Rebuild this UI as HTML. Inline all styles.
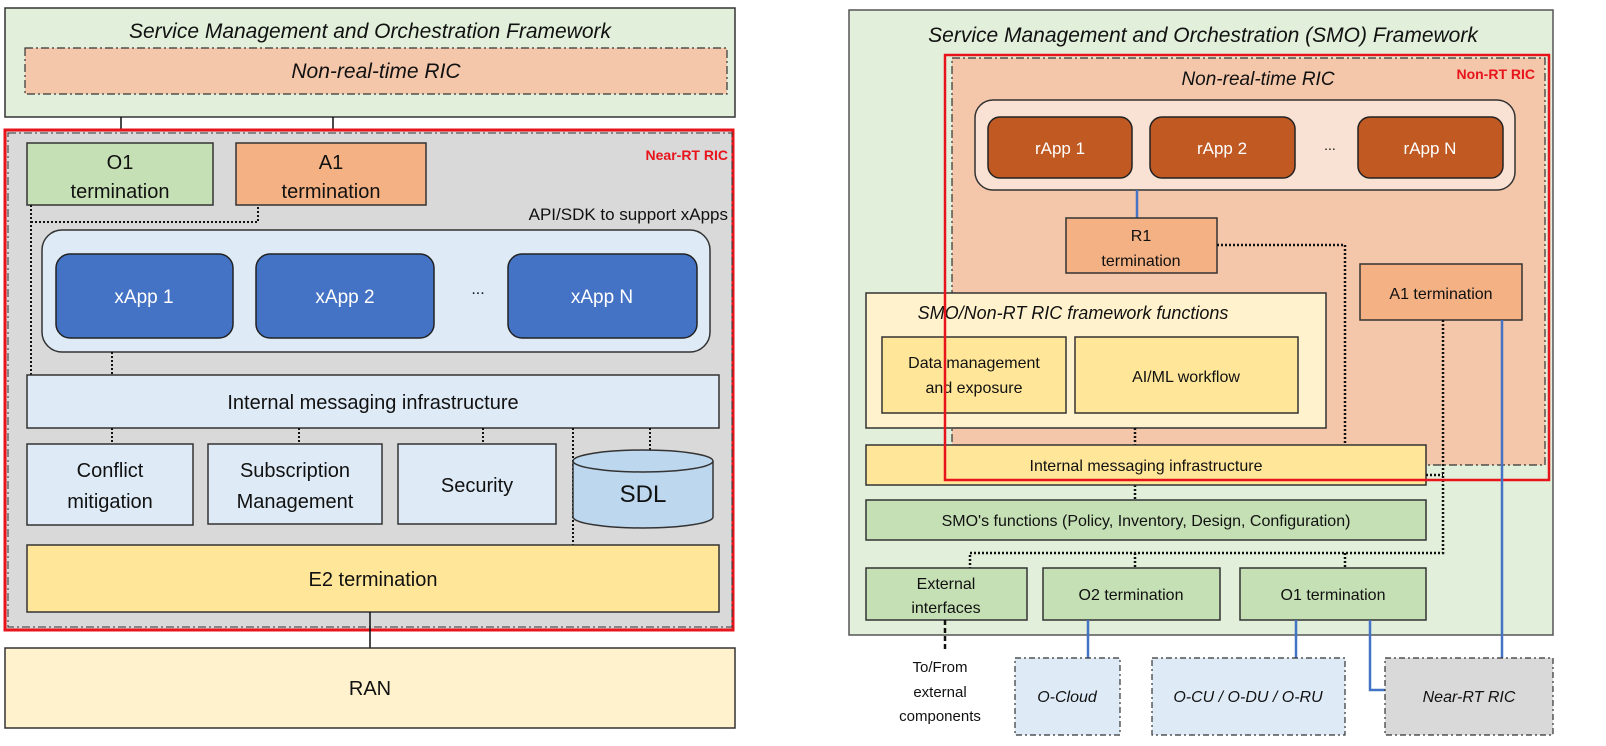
<!DOCTYPE html>
<html><head><meta charset="utf-8"><style>
html,body{margin:0;padding:0;background:#fff;}
svg{display:block;}
text{font-family:"Liberation Sans",sans-serif;fill:#111;}
.it{font-style:italic;}
</style></head><body>
<svg width="1606" height="746" viewBox="0 0 1606 746" xmlns="http://www.w3.org/2000/svg">
<!-- LEFT -->
<rect x="5" y="8" width="730" height="109" fill="#e2efda" stroke="#333" stroke-width="1.5"/>
<text x="370" y="38" font-size="21" class="it" text-anchor="middle">Service Management and Orchestration Framework</text>
<rect x="25" y="48" width="702" height="46" fill="#f4c7aa" stroke="#333" stroke-width="1.2" stroke-dasharray="8,3,2,3"/>
<text x="376" y="78" font-size="21" class="it" text-anchor="middle">Non-real-time RIC</text>
<line x1="121" y1="117" x2="121" y2="143" stroke="#111" stroke-width="1.5"/>
<line x1="333" y1="117" x2="333" y2="143" stroke="#111" stroke-width="1.5"/>
<rect x="5" y="130" width="728" height="500" fill="#d9d9d9" stroke="#e8141c" stroke-width="3"/>
<rect x="8" y="133" width="724" height="494" fill="none" stroke="#333" stroke-width="1" stroke-dasharray="8,3,2,3"/>
<text x="728" y="160" font-size="14" font-weight="bold" fill="#e8141c" text-anchor="end" style="fill:#e8141c">Near-RT RIC</text>
<rect x="27" y="143" width="186" height="62" fill="#c5e0b4" stroke="#333" stroke-width="1.5"/>
<text x="120" y="169" font-size="20" text-anchor="middle">O1</text>
<text x="120" y="198" font-size="20" text-anchor="middle">termination</text>
<rect x="236" y="143" width="190" height="62" fill="#f4b183" stroke="#333" stroke-width="1.5"/>
<text x="331" y="169" font-size="20" text-anchor="middle">A1</text>
<text x="331" y="198" font-size="20" text-anchor="middle">termination</text>
<text x="728" y="220" font-size="17" text-anchor="end">API/SDK to support xApps</text>
<path d="M31 205 V375 M31 222 H258 V205" fill="none" stroke="#111" stroke-width="2" stroke-dasharray="2,2"/>
<rect x="42" y="230" width="668" height="122" rx="20" fill="#deebf7" stroke="#333" stroke-width="1.5"/>
<rect x="56" y="254" width="177" height="84" rx="14" fill="#4472c4" stroke="#222" stroke-width="1.5"/>
<rect x="256" y="254" width="178" height="84" rx="14" fill="#4472c4" stroke="#222" stroke-width="1.5"/>
<rect x="508" y="254" width="189" height="84" rx="14" fill="#4472c4" stroke="#222" stroke-width="1.5"/>
<text x="144" y="303" font-size="19" text-anchor="middle" style="fill:#fff">xApp 1</text>
<text x="345" y="303" font-size="19" text-anchor="middle" style="fill:#fff">xApp 2</text>
<text x="602" y="303" font-size="19" text-anchor="middle" style="fill:#fff">xApp N</text>
<text x="478" y="294" font-size="16" text-anchor="middle">...</text>
<line x1="112" y1="352" x2="112" y2="375" stroke="#111" stroke-width="2" stroke-dasharray="2,2"/>
<rect x="27" y="375" width="692" height="53" fill="#deebf7" stroke="#333" stroke-width="1.5"/>
<text x="373" y="409" font-size="20" text-anchor="middle">Internal messaging infrastructure</text>
<path d="M112 428 V444 M299 428 V444 M483 428 V444 M650 428 V460 M573 428 V545" stroke="#111" stroke-width="2" stroke-dasharray="2,2"/>
<rect x="27" y="444" width="166" height="81" fill="#deebf7" stroke="#333" stroke-width="1.5"/>
<text x="110" y="477" font-size="20" text-anchor="middle">Conflict</text>
<text x="110" y="508" font-size="20" text-anchor="middle">mitigation</text>
<rect x="208" y="444" width="174" height="80" fill="#deebf7" stroke="#333" stroke-width="1.5"/>
<text x="295" y="477" font-size="20" text-anchor="middle">Subscription</text>
<text x="295" y="508" font-size="20" text-anchor="middle">Management</text>
<rect x="398" y="444" width="158" height="80" fill="#deebf7" stroke="#333" stroke-width="1.5"/>
<text x="477" y="492" font-size="20" text-anchor="middle">Security</text>
<path d="M573 461 V517 A70 11 0 0 0 713 517 V461" fill="#bdd7ee" stroke="#333" stroke-width="1.5"/>
<ellipse cx="643" cy="461" rx="70" ry="11" fill="#bdd7ee" stroke="#333" stroke-width="1.5"/>
<text x="643" y="502" font-size="24" text-anchor="middle">SDL</text>
<rect x="27" y="545" width="692" height="67" fill="#ffe699" stroke="#333" stroke-width="1.5"/>
<text x="373" y="586" font-size="20" text-anchor="middle">E2 termination</text>
<line x1="370" y1="612" x2="370" y2="648" stroke="#111" stroke-width="1.5"/>
<rect x="5" y="648" width="730" height="80" fill="#fff2cc" stroke="#333" stroke-width="1.5"/>
<text x="370" y="695" font-size="20" text-anchor="middle">RAN</text>

<!-- RIGHT -->
<rect x="849" y="10" width="704" height="625" fill="#e2efda" stroke="#555" stroke-width="1.5"/>
<text x="1203" y="42" font-size="21" class="it" text-anchor="middle">Service Management and Orchestration (SMO) Framework</text>
<rect x="952" y="58" width="593" height="407" fill="#f4c7aa" stroke="#333" stroke-width="1.2" stroke-dasharray="8,3,2,3"/>
<text x="1258" y="85" font-size="19" class="it" text-anchor="middle">Non-real-time RIC</text>
<text x="1535" y="79" font-size="14" font-weight="bold" text-anchor="end" style="fill:#e8141c">Non-RT RIC</text>
<rect x="975" y="100" width="540" height="90" rx="18" fill="#f9e1d3" stroke="#333" stroke-width="1.5"/>
<rect x="988" y="117" width="144" height="61" rx="12" fill="#c05a22" stroke="#222" stroke-width="1.5"/>
<rect x="1150" y="117" width="145" height="61" rx="12" fill="#c05a22" stroke="#222" stroke-width="1.5"/>
<rect x="1358" y="117" width="145" height="61" rx="12" fill="#c05a22" stroke="#222" stroke-width="1.5"/>
<text x="1060" y="154" font-size="17" text-anchor="middle" style="fill:#fff">rApp 1</text>
<text x="1222" y="154" font-size="17" text-anchor="middle" style="fill:#fff">rApp 2</text>
<text x="1430" y="154" font-size="17" text-anchor="middle" style="fill:#fff">rApp N</text>
<text x="1330" y="150" font-size="14" text-anchor="middle">...</text>
<line x1="1137" y1="190" x2="1137" y2="218" stroke="#4472c4" stroke-width="2.5"/>
<rect x="1066" y="218" width="151" height="55" fill="#f4b183" stroke="#333" stroke-width="1.5"/>
<text x="1141" y="241" font-size="16" text-anchor="middle">R1</text>
<text x="1141" y="266" font-size="16" text-anchor="middle">termination</text>
<path d="M1217 245 H1345 V445" fill="none" stroke="#111" stroke-width="2.5" stroke-dasharray="2,2"/>
<rect x="1360" y="264" width="162" height="56" fill="#f4b183" stroke="#333" stroke-width="1.5"/>
<text x="1441" y="299" font-size="16" text-anchor="middle">A1 termination</text>
<rect x="866" y="293" width="460" height="135" fill="#fff2cc" stroke="#333" stroke-width="1.5"/>
<text x="1073" y="319" font-size="18" class="it" text-anchor="middle">SMO/Non-RT RIC framework functions</text>
<rect x="882" y="337" width="184" height="76" fill="#ffe699" stroke="#333" stroke-width="1.5"/>
<text x="974" y="368" font-size="16" text-anchor="middle">Data management</text>
<text x="974" y="393" font-size="16" text-anchor="middle">and exposure</text>
<rect x="1075" y="337" width="223" height="76" fill="#ffe699" stroke="#333" stroke-width="1.5"/>
<text x="1186" y="382" font-size="16" text-anchor="middle">AI/ML workflow</text>
<path d="M1135 428 V445 M1135 485 V500" stroke="#111" stroke-width="2.5" stroke-dasharray="2,2"/>
<rect x="866" y="445" width="560" height="40" fill="#ffe699" stroke="#333" stroke-width="1.5"/>
<text x="1146" y="471" font-size="16" text-anchor="middle">Internal messaging infrastructure</text>
<rect x="866" y="500" width="560" height="40" fill="#c5e0b4" stroke="#333" stroke-width="1.5"/>
<text x="1146" y="526" font-size="16" text-anchor="middle">SMO's functions (Policy, Inventory, Design, Configuration)</text>
<path d="M1443 320 V553 H970 V568 M1135 553 V568 M1345 553 V568 M1426 475 H1443" fill="none" stroke="#111" stroke-width="2.5" stroke-dasharray="2,2"/>
<rect x="945" y="55" width="604" height="425" fill="none" stroke="#e8141c" stroke-width="2.5"/>
<line x1="1502" y1="320" x2="1502" y2="658" stroke="#4472c4" stroke-width="2.5"/>
<rect x="866" y="568" width="161" height="52" fill="#c5e0b4" stroke="#333" stroke-width="1.5"/>
<text x="946" y="589" font-size="16" text-anchor="middle">External</text>
<text x="946" y="613" font-size="16" text-anchor="middle">interfaces</text>
<rect x="1043" y="568" width="177" height="52" fill="#c5e0b4" stroke="#333" stroke-width="1.5"/>
<text x="1131" y="600" font-size="16" text-anchor="middle">O2 termination</text>
<rect x="1240" y="568" width="186" height="52" fill="#c5e0b4" stroke="#333" stroke-width="1.5"/>
<text x="1333" y="600" font-size="16" text-anchor="middle">O1 termination</text>
<line x1="945" y1="620" x2="945" y2="650" stroke="#111" stroke-width="2.5" stroke-dasharray="5,3"/>
<text x="940" y="672" font-size="15" text-anchor="middle">To/From</text>
<text x="940" y="697" font-size="15" text-anchor="middle">external</text>
<text x="940" y="721" font-size="15" text-anchor="middle">components</text>
<path d="M1088 620 V658 M1296 620 V658 M1370 620 V690 H1385" fill="none" stroke="#4472c4" stroke-width="2.5"/>
<rect x="1015" y="658" width="105" height="77" fill="#deebf7" stroke="#333" stroke-width="1.2" stroke-dasharray="6,3,2,3"/>
<text x="1067" y="702" font-size="16" class="it" text-anchor="middle">O-Cloud</text>
<rect x="1152" y="658" width="193" height="77" fill="#deebf7" stroke="#333" stroke-width="1.2" stroke-dasharray="6,3,2,3"/>
<text x="1248" y="702" font-size="16" class="it" text-anchor="middle">O-CU / O-DU / O-RU</text>
<rect x="1385" y="658" width="168" height="77" fill="#d9d9d9" stroke="#333" stroke-width="1.2" stroke-dasharray="6,3,2,3"/>
<text x="1469" y="702" font-size="16" class="it" text-anchor="middle">Near-RT RIC</text>
</svg>
</body></html>
